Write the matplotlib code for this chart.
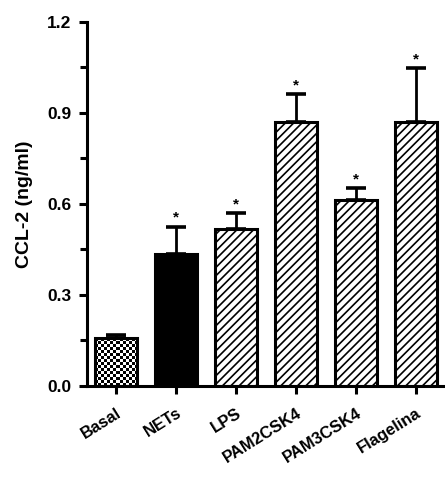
import matplotlib.pyplot as plt
import numpy as np

categories = ['Basal', 'NETs', 'LPS', 'PAM2CSK4', 'PAM3CSK4', 'Flagelina']
means = [0.158, 0.435, 0.518, 0.870, 0.612, 0.870]
errs = [0.010, 0.090, 0.052, 0.093, 0.041, 0.178]
signif = [False, True, True, True, True, True]

plt.rcParams['font.family'] = ['Liberation Sans', 'DejaVu Sans']
plt.rcParams['font.weight'] = 'bold'
plt.rcParams['hatch.linewidth'] = 1.2

fig = plt.figure(figsize=(4.45, 4.99), dpi=100)
ax = fig.add_axes([0.1955, 0.2265, 0.8045, 0.7295])

x = np.arange(len(categories))
colors = ['white', 'black', 'white', 'white', 'white', 'white']
hatches = ['', '', '////', '////', '////', '////']
bars = ax.bar(x, means, width=0.7, color=colors, edgecolor='black', linewidth=2.2,
              zorder=2)
for b, h in zip(bars, hatches):
    b.set_hatch(h)

# checkered fill for Basal
checker = np.indices((16, 14)).sum(axis=0) % 2
b0 = bars[0]
im = ax.imshow(checker, cmap='gray', interpolation='nearest', aspect='auto',
               extent=[b0.get_x(), b0.get_x() + b0.get_width(), 0, b0.get_height()],
               zorder=1.5)
im.set_clip_path(b0)
b0.set_facecolor('none')

# upper error bars only
ax.errorbar(x, means, yerr=[np.zeros(len(errs)), errs], fmt='none', ecolor='black',
            elinewidth=2.0, capsize=7, capthick=2.6, zorder=1)

for xi, m, e, s in zip(x, means, errs, signif):
    if s:
        ax.text(xi, m + e + 0.006, '*', ha='center', va='bottom', fontsize=11)

ax.set_xlim(-0.48, 5.48)
ax.set_ylim(0, 1.2)
ax.set_yticks([0, 0.3, 0.6, 0.9, 1.2])
ax.set_yticklabels(['0.0', '0.3', '0.6', '0.9', '1.2'])
ax.set_yticks([0.15, 0.45, 0.75, 1.05], minor=True)
ax.set_xticks(x)
ax.set_xticklabels(categories, rotation=32, ha='right', rotation_mode='anchor')
ax.tick_params(axis='both', which='major', length=6, width=2.2, direction='out')
ax.tick_params(axis='y', which='major', labelsize=12.5, pad=5)
ax.tick_params(axis='x', which='major', labelsize=12, pad=8)
ax.tick_params(axis='y', which='minor', length=5, width=2.2)
ax.set_ylabel('CCL-2 (ng/ml)', fontsize=14, fontweight='bold', labelpad=10)

for side in ['top', 'right']:
    ax.spines[side].set_visible(False)
for side in ['left', 'bottom']:
    ax.spines[side].set_linewidth(2.2)

plt.savefig('out.png', dpi=100)
